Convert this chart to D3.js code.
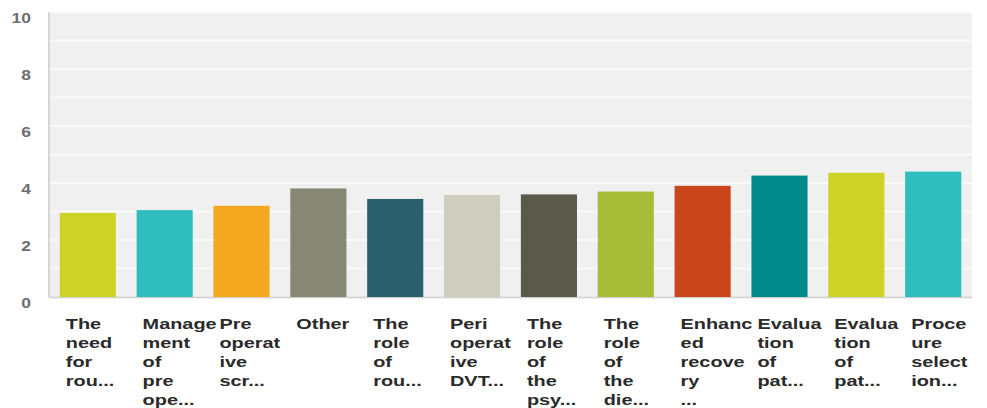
<!DOCTYPE html>
<html>
<head>
<meta charset="utf-8">
<script src="https://cdn.jsdelivr.net/npm/d3@7"></script>
<style>
  html, body { margin: 0; padding: 0; background: #fff; }
  svg { display: block; }
</style>
</head>
<body>
<svg id="chart" width="987" height="408"></svg>
<script>
const categories = [
  "The need for rou...", "Management of pre ope...", "Pre operative scr...", "Other",
  "The role of rou...", "Peri operative DVT...", "The role of the psy...", "The role of the die...",
  "Enhanced recovery ...", "Evaluation of pat...", "Evaluation of pat...", "Proceure selection..."
];
const labelLines = [
  ["The", "need", "for", "rou..."],
  ["Manage", "ment", "of", "pre", "ope..."],
  ["Pre", "operat", "ive", "scr..."],
  ["Other"],
  ["The", "role", "of", "rou..."],
  ["Peri", "operat", "ive", "DVT..."],
  ["The", "role", "of", "the", "psy..."],
  ["The", "role", "of", "the", "die..."],
  ["Enhanc", "ed", "recove", "ry", "..."],
  ["Evalua", "tion", "of", "pat..."],
  ["Evalua", "tion", "of", "pat..."],
  ["Proce", "ure", "select", "ion..."]
];
const values = [2.95, 3.05, 3.2, 3.81, 3.44, 3.58, 3.6, 3.7, 3.9, 4.26, 4.36, 4.4];
const colors = ["#cdd325", "#30bdbd", "#f5a81f", "#878874", "#2c5f6e", "#cecdbe", "#5a5a4a", "#a8bd37", "#c9461b", "#008a8a", "#cdd325", "#30bdbd"];
const yTicks = [0, 2, 4, 6, 8, 10];
const yGrid = [1, 2, 3, 4, 5, 6, 7, 8, 9, 10];

const svg = d3.select("#chart");
const pLeft = 49, pRight = 972, pTop = 12, pBottom = 297;

const x = d3.scaleBand().domain(d3.range(categories.length)).range([pLeft, pRight])
  .paddingInner(0.27).paddingOuter(0.14);
const y = d3.scaleLinear().domain([0, 10]).range([pBottom, pTop]);

// plot background
svg.append("rect").attr("x", pLeft).attr("y", pTop)
  .attr("width", pRight - pLeft).attr("height", pBottom - pTop).attr("fill", "#f0f0f0");

// gridlines
svg.append("g").selectAll("line").data(yGrid).join("line")
  .attr("x1", pLeft + 1).attr("x2", pRight)
  .attr("y1", d => y(d)).attr("y2", d => y(d))
  .attr("stroke", "#fafafa").attr("stroke-width", 2);

// axis lines
svg.append("line").attr("x1", pLeft).attr("x2", pLeft).attr("y1", pTop).attr("y2", pBottom)
  .attr("stroke", "#d6d6d6").attr("stroke-width", 2);
svg.append("line").attr("x1", pLeft).attr("x2", pRight).attr("y1", pBottom + 0.5).attr("y2", pBottom + 0.5)
  .attr("stroke", "#cfcfcf").attr("stroke-width", 1.5);

// bars
svg.append("g").selectAll("rect").data(values).join("rect")
  .attr("x", (d, i) => x(i)).attr("width", x.bandwidth())
  .attr("y", d => y(d)).attr("height", d => y(0) - y(d))
  .attr("fill", (d, i) => colors[i]);

// y labels
svg.append("g").selectAll("g").data(yTicks).join("g")
  .attr("transform", d => `translate(31,${y(d) + 11}) scale(1.25,1)`)
  .append("text")
  .attr("text-anchor", "end")
  .attr("font-family", "Liberation Sans, Arial, sans-serif")
  .attr("font-size", 14).attr("font-weight", "bold")
  .attr("fill", "#6e6e6e")
  .text(d => d);

// x labels
const xl = svg.append("g").selectAll("g").data(labelLines).join("g")
  .attr("transform", (d, i) => `translate(${x(i) + 6},329) scale(1.42,1)`);
xl.each(function(lines) {
  const t = d3.select(this).append("text")
    .attr("font-family", "Liberation Sans, Arial, sans-serif")
    .attr("font-size", 14).attr("font-weight", "bold")
    .attr("fill", "#2a2a2a");
  lines.forEach((ln, k) => {
    t.append("tspan").attr("x", 0).attr("y", k * 19).text(ln);
  });
});
</script>
</body>
</html>
